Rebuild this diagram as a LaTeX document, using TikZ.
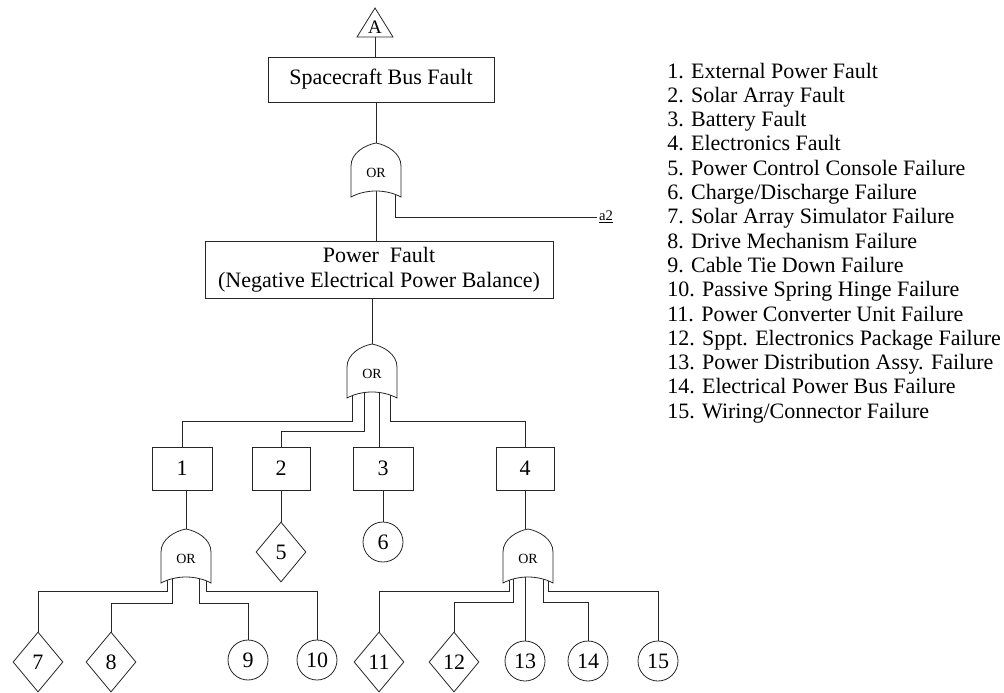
\documentclass[tikz,border=0pt]{standalone}
\usepackage{fontspec}
\setmainfont{Liberation Serif}
\usetikzlibrary{shapes.geometric,calc}
\pgfdeclarelayer{bg}
\pgfsetlayers{bg,main}
\def\pxu{0.75pt}
\tikzset{
  ln/.style={line width=0.6pt, draw=black!85},
  evbox/.style={draw, ln, fill=white, inner sep=0, font=\fontsize{16.5}{19}\selectfont},
  basic/.style={draw, ln, circle, fill=white, inner sep=0, minimum size=40*\pxu,
    font=\fontsize{16.5}{19}\selectfont},
  undev/.style={draw, ln, diamond, aspect=0.83, fill=white, inner sep=0,
    minimum width=50*\pxu, minimum height=60*\pxu, font=\fontsize{16.5}{19}\selectfont},
  gatetext/.style={inner sep=0, font=\fontsize{10.5}{12}\selectfont},
  legend/.style={anchor=base west, inner sep=0, font=\fontsize{16.5}{19}\selectfont},
}
% OR gate: name, centre x, centre y (y grows downward)
\newcommand{\orgate}[3]{%
  \filldraw[ln, fill=white] ({#2-25},{#3+27}) -- ({#2-25},{#3-4})
    .. controls ({#2-25},{#3-17}) and ({#2-11},{#3-25}) .. ({#2},{#3-27})
    .. controls ({#2+11},{#3-25}) and ({#2+25},{#3-17}) .. ({#2+25},{#3-4})
    -- ({#2+25},{#3+27})
    .. controls ({#2+10},{#3+19}) and ({#2-10},{#3+19}) .. cycle;
  \coordinate (#1-top) at (#2,{#3-27});
  \node[gatetext] (#1) at (#2,{#3+3}) {OR};
}
\begin{document}
\begin{tikzpicture}[x=0.75pt,y=-0.75pt]
\useasboundingbox (0,0) rectangle (1004,693);

% transfer-in triangle and top event
\coordinate (Abase) at (375,37);
\draw[ln, fill=white] (357,37) -- (375,8) -- (393,37) -- cycle;
\node[inner sep=0, font=\fontsize{14.25}{16}\selectfont] (A) at (375,27) {A};
\node[evbox, minimum width=226*\pxu, minimum height=45*\pxu] (sbf) at (381,79.5) {Spacecraft Bus Fault};

\orgate{g1}{376}{170}
\node[inner sep=1pt, font=\fontsize{11}{13}\selectfont] (a2) at (606,217) {\underline{a2}};

\node[evbox, minimum width=348*\pxu, minimum height=57*\pxu, align=center] (pf) at (379,269.5)
  {Power\ \ Fault\\(Negative Electrical Power Balance)};

\orgate{g2}{372}{371}

% intermediate events
\node[evbox, minimum width=60*\pxu, minimum height=43*\pxu] (e1) at (182,468.5) {1};
\node[evbox, minimum width=58*\pxu, minimum height=43*\pxu] (e2) at (281,468.5) {2};
\node[evbox, minimum width=60*\pxu, minimum height=43*\pxu] (e3) at (383,468.5) {3};
\node[evbox, minimum width=58*\pxu, minimum height=43*\pxu] (e4) at (525,468.5) {4};

\node[undev] (e5) at (281,552) {5};
\node[basic] (e6) at (383,542) {6};

\orgate{g3}{186}{556}
\orgate{g4}{528}{556}

% basic and undeveloped events
\node[undev] (e7) at (38,662) {7};
\node[undev] (e8) at (111,662) {8};
\node[basic] (e9) at (248,660) {9};
\node[basic] (e10) at (317,660) {10};
\node[undev] (e11) at (379,662) {11};
\node[undev] (e12) at (454,662) {12};
\node[basic] (e13) at (525,661) {13};
\node[basic] (e14) at (588,661) {14};
\node[basic] (e15) at (658,661) {15};

% connectors
\begin{pgfonlayer}{bg}
\draw[ln] (Abase) -- (Abase |- sbf.north);
\draw[ln] (sbf.south -| g1-top) -- (g1-top);
\draw[ln] (g1.center) -- (g1.center |- pf.north);
\draw[ln] ($(g1.center)+(19,0)$) |- (a2.west);
\draw[ln] (pf.south -| g2-top) -- (g2-top);

\draw[ln] ($(g2.center)+(-20,0)$) |- ($(e1.north)+(0,-25)$) -- (e1.north);
\draw[ln] ($(g2.center)+(-8,0)$) |- ($(e2.north)+(0,-15)$) -- (e2.north);
\draw[ln] ($(g2.center)+(7,0)$) -- ($(e3.north)+(-4,0)$);
\draw[ln] ($(g2.center)+(18,0)$) |- ($(e4.north)+(0,-25)$) -- (e4.north);

\draw[ln] (e1.south -| g3-top) -- (g3-top);
\draw[ln] (e2.south) -- (e5.north);
\draw[ln] (e3.south) -- (e6.north);
\draw[ln] (e4.south) -- (e4.south |- g4-top);

\draw[ln] ($(g3.center)+(-19,0)$) |- ($(e7.north)+(0,-40)$) -- (e7.north);
\draw[ln] ($(g3.center)+(-14,0)$) |- ($(e8.north)+(0,-28)$) -- (e8.north);
\draw[ln] ($(g3.center)+(13,0)$) |- ($(e9.north)+(0,-36)$) -- (e9.north);
\draw[ln] ($(g3.center)+(20,0)$) |- ($(e10.north)+(0,-48)$) -- (e10.north);

\draw[ln] ($(g4.center)+(-19,0)$) |- ($(e11.north)+(0,-40)$) -- (e11.north);
\draw[ln] ($(g4.center)+(-15,0)$) |- ($(e12.north)+(0,-29)$) -- (e12.north);
\draw[ln] ($(g4.center)+(-3,0)$) -- (e13.north);
\draw[ln] ($(g4.center)+(15,0)$) |- ($(e14.north)+(0,-38)$) -- (e14.north);
\draw[ln] ($(g4.center)+(20,0)$) |- ($(e15.north)+(0,-49)$) -- (e15.north);
\end{pgfonlayer}

% legend
\foreach \t [count=\i, evaluate=\i as \yy using 78+24.3*(\i-1)] in {
  {External Power Fault},
  {Solar Array Fault},
  {Battery Fault},
  {Electronics Fault},
  {Power Control Console Failure},
  {Charge/Discharge Failure},
  {Solar Array Simulator Failure},
  {Drive Mechanism Failure},
  {Cable Tie Down Failure},
  {Passive Spring Hinge Failure},
  {Power Converter Unit Failure},
  {Sppt. Electronics Package Failure},
  {Power Distribution Assy. Failure},
  {Electrical Power Bus Failure},
  {Wiring/Connector Failure}}
  \node[legend] (l\i) at (667,\yy) {\i. \t};
\end{tikzpicture}
\end{document}
